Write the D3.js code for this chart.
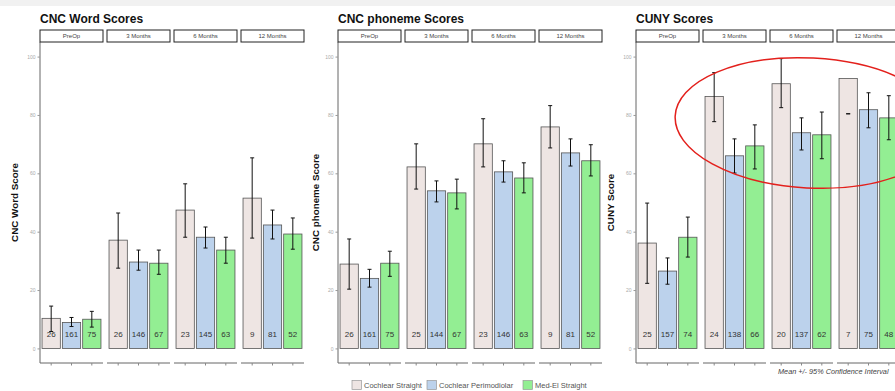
<!DOCTYPE html>
<html><head><meta charset="utf-8">
<script src="https://cdn.jsdelivr.net/npm/d3@7"></script>
<style>body{margin:0;background:#fff;overflow:hidden}svg{display:block}</style>
</head><body>
<script>
// ---------- data ----------
const months = ["PreOp", "3 Months", "6 Months", "12 Months"];
const groups = ["Cochlear Straight", "Cochlear Perimodiolar", "Med-El Straight"];
const yTicks = [0, 20, 40, 60, 80, 100];
const panelTitles = ["CNC Word Scores", "CNC phoneme Scores", "CUNY Scores"];
const yTitles = ["CNC Word Score", "CNC phoneme Score", "CUNY Score"];

// means per month: [CS, CP, ME]
const wordMean = [[10.3, 8.9, 10.0], [37.1, 29.6, 29.2], [47.4, 38.1, 33.7], [51.5, 42.3, 39.2]];
const wordLo   = [[5.8, 7.5, 7.3], [27.5, 26.8, 25.4], [38.1, 34.4, 29.2], [37.8, 37.5, 34.0]];
const wordHi   = [[14.5, 10.6, 12.7], [46.4, 33.7, 33.7], [56.4, 41.6, 38.1], [65.3, 47.4, 44.7]];
const wordN    = [[26, 161, 75], [26, 146, 67], [23, 145, 63], [9, 81, 52]];

const phonMean = [[28.9, 24.0, 29.2], [62.2, 54.0, 53.3], [70.1, 60.5, 58.4], [75.9, 67.0, 64.3]];
const phonLo   = [[20.3, 21.0, 24.7], [54.6, 50.2, 47.8], [62.2, 57.0, 53.3], [68.7, 62.5, 59.1]];
const phonHi   = [[37.5, 27.1, 33.3], [70.1, 57.4, 58.0], [78.7, 64.3, 63.6], [83.2, 71.8, 69.8]];
const phonN    = [[26, 161, 75], [25, 144, 67], [23, 146, 63], [9, 81, 52]];

const cunyMean = [[36.1, 26.5, 38.1], [86.3, 66.0, 69.4], [90.7, 73.9, 73.2], [92.5, 81.8, 79.0]];
const cunyLo   = [[22.3, 22.0, 31.3], [77.7, 60.1, 61.5], [82.5, 68.0, 65.0], [80.4, 75.6, 71.5]];
const cunyHi   = [[49.8, 31.0, 45.0], [94.5, 71.8, 76.6], [99.3, 79.0, 81.0], [80.4, 87.6, 86.6]];
const cunyN    = [[25, 157, 74], [24, 138, 66], [20, 137, 62], [7, 75, 48]];

const panelData = [
  {mean: wordMean, lo: wordLo, hi: wordHi, n: wordN},
  {mean: phonMean, lo: phonLo, hi: phonHi, n: phonN},
  {mean: cunyMean, lo: cunyLo, hi: cunyHi, n: cunyN}
];
const colors = ["#EEE5E3", "#BCD2EC", "#93EE93"];

// ---------- layout ----------
const W = 895, H = 391;
const svg = d3.select("body").append("svg").attr("width", W).attr("height", H)
  .style("font-family", "'Liberation Sans', Arial, sans-serif");

svg.append("rect").attr("x", 0).attr("y", 0).attr("width", W).attr("height", 6).attr("fill", "#f1f1f1");

const panelX = [40, 338, 636];
const facetW = 63, facetStep = 67;
const stripTop = 30, stripH = 12;
const y = d3.scaleLinear().domain([-5, 105]).range([363, 42]);
const yTitleX = [18, 319, 614];

panelData.forEach((pd, p) => {
  const x0 = panelX[p];
  const g = svg.append("g");
  // title
  g.append("text").attr("x", x0).attr("y", 23).attr("font-size", 12).attr("font-weight", "bold")
    .attr("fill", "#111").text(panelTitles[p]);
  // y title
  g.append("text").attr("transform", `translate(${yTitleX[p]},${y(50)}) rotate(-90)`)
    .attr("text-anchor", "middle").attr("font-size", 9.8).attr("font-weight", "bold").attr("fill", "#111")
    .text(yTitles[p]);
  // y axis
  const yAxis = d3.axisLeft(y).tickValues(yTicks).tickSize(2.5).tickPadding(2);
  const ya = g.append("g").attr("transform", `translate(${x0},0)`).call(yAxis);
  ya.select(".domain").attr("stroke", "#666").attr("d", `M0,${y(105)}V${y(-5)}`);
  ya.selectAll(".tick line").attr("stroke", "#999");
  ya.selectAll(".tick text").attr("font-size", 5).attr("fill", "#aaa");

  const facet = d3.scaleBand().domain(months).range([x0, x0 + 3 * facetStep + facetW]).paddingInner((facetStep - facetW) / facetStep).paddingOuter(0);
  const xb = d3.scaleBand().domain(groups).range([0, facet.bandwidth()]).paddingInner(0.1).paddingOuter(0.1);

  months.forEach((m, mi) => {
    const fx = facet(m);
    const fg = g.append("g").attr("transform", `translate(${fx},0)`);
    // strip
    fg.append("rect").attr("x", 0).attr("y", stripTop).attr("width", facet.bandwidth()).attr("height", stripH)
      .attr("fill", "#fff").attr("stroke", "#222").attr("stroke-width", 1);
    fg.append("text").attr("x", facet.bandwidth() / 2).attr("y", stripTop + stripH / 2 + 2)
      .attr("text-anchor", "middle").attr("font-size", 6).attr("fill", "#444").text(m);
    // bars
    groups.forEach((gname, gi) => {
      const v = pd.mean[mi][gi];
      fg.append("rect").attr("x", xb(gname)).attr("y", y(v)).attr("width", xb.bandwidth())
        .attr("height", y(0) - y(v)).attr("fill", colors[gi]).attr("stroke", "#555").attr("stroke-width", 0.8);
    });
    // error bars
    groups.forEach((gname, gi) => {
      const cx = xb(gname) + xb.bandwidth() / 2;
      const lo = pd.lo[mi][gi], hi = pd.hi[mi][gi];
      const eg = fg.append("g").attr("stroke", "#111").attr("stroke-width", 1);
      if (hi > lo) eg.append("line").attr("x1", cx).attr("x2", cx).attr("y1", y(lo)).attr("y2", y(hi));
      eg.append("line").attr("x1", cx - 2).attr("x2", cx + 2).attr("y1", y(hi)).attr("y2", y(hi));
      eg.append("line").attr("x1", cx - 2).attr("x2", cx + 2).attr("y1", y(lo)).attr("y2", y(lo));
    });
    // n labels
    groups.forEach((gname, gi) => {
      fg.append("text").attr("x", xb(gname) + xb.bandwidth() / 2).attr("y", y(4.8) + 3)
        .attr("text-anchor", "middle").attr("font-size", 8).attr("fill", "#333").text(pd.n[mi][gi]);
    });
    // x axis segment
    const xAxis = d3.axisBottom(xb).tickSize(2.5).tickFormat("");
    const xa = fg.append("g").attr("transform", `translate(0,${y(-5)})`).call(xAxis);
    xa.select(".domain").attr("stroke", "#666").attr("d", `M0,0H${facet.bandwidth()}`);
    xa.selectAll(".tick line").attr("stroke", "#888");
  });
});

// legend
const legX = [352, 427, 523];
const lg = svg.append("g");
groups.forEach((gname, gi) => {
  lg.append("rect").attr("x", legX[gi]).attr("y", 380.5).attr("width", 9.5).attr("height", 9)
    .attr("fill", colors[gi]).attr("stroke", "#999").attr("stroke-width", 0.7);
  lg.append("text").attr("x", legX[gi] + 12).attr("y", 388).attr("font-size", 7.5).attr("fill", "#555").text(gname);
});

// caption
svg.append("text").attr("x", 778).attr("y", 374).attr("font-size", 7.3).attr("font-style", "italic")
  .attr("fill", "#444").text("Mean +/- 95% Confidence Interval");

// red annotation ellipse
svg.append("ellipse").attr("cx", 810).attr("cy", 123).attr("rx", 135).attr("ry", 65)
  .attr("transform", "rotate(3,810,123)")
  .attr("fill", "none").attr("stroke", "#e3201c").attr("stroke-width", 1.5);
</script>
</body></html>
